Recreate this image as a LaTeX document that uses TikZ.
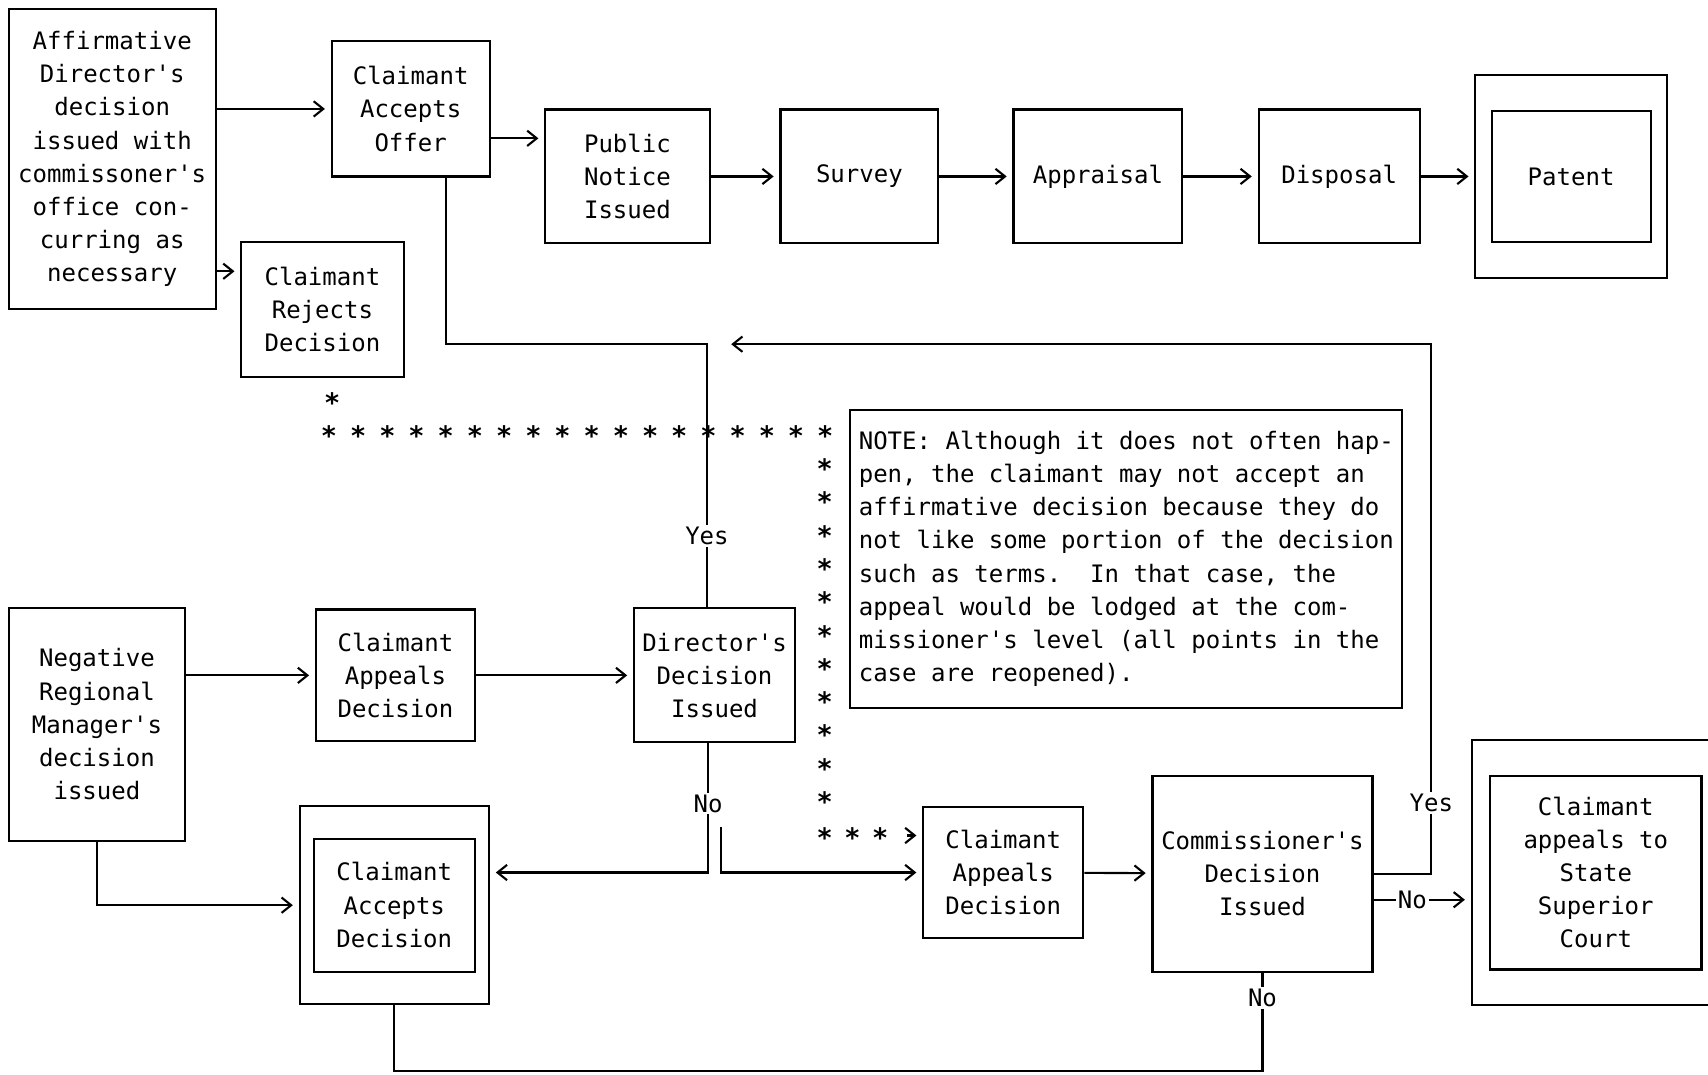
\documentclass[tikz,border=0pt]{standalone}
\usepackage{fontspec}
\setmonofont{DejaVu Sans Mono}
\usetikzlibrary{arrows.meta,fit}

\begin{document}
\begin{tikzpicture}[x=0.02cm,y=-0.02cm,>={Straight Barb[length=5pt,width=8pt]},
                    line width=1.1pt,font=\ttfamily\fontsize{12.55}{17.36}\selectfont]
  \tikzstyle{box}=[draw, align=center, inner sep=2pt]
  \tikzstyle{flow}=[->, shorten >=3pt]
  \tikzstyle{lbl}=[fill=white, inner sep=1pt]
  \tikzstyle{ast}=[inner sep=0pt, font=\ttfamily\bfseries\fontsize{14}{17.36}\selectfont]

  \useasboundingbox (0,0) rectangle (1568,986);

  % top row
  \node[box, minimum width=3.8cm, minimum height=5.52cm] (Affirm) at (103,146)
    {Affirmative\\Director's\\decision\\issued with\\commissoner's\\office con-\\curring as\\necessary};
  \node[box, minimum width=2.9cm, minimum height=2.48cm] (AcceptOffer) at (377,100) {Claimant\\Accepts\\Offer};
  \node[box, minimum width=2.98cm, minimum height=2.48cm] (Reject) at (296,284) {Claimant\\Rejects\\Decision};
  \node[box, minimum width=3.02cm, minimum height=2.46cm] (Notice) at (576,162) {Public\\Notice\\Issued};
  \node[box, minimum width=2.9cm, minimum height=2.46cm] (Survey) [right of=Notice, node distance=4.26cm] {Survey};
  \node[box, minimum width=3.1cm, minimum height=2.46cm] (Appraisal) [right of=Survey, node distance=4.38cm] {Appraisal};
  \node[box, minimum width=2.96cm, minimum height=2.46cm] (Disposal) [right of=Appraisal, node distance=4.43cm] {Disposal};
  \node[box, minimum width=2.92cm, minimum height=2.4cm] (Patent) [right of=Disposal, node distance=4.26cm] {Patent};
  \node[draw, fit=(Patent), inner xsep=0.28cm, inner ysep=0.64cm] (PatentOut) {};

  % bottom part
  \node[box, minimum width=3.24cm, minimum height=4.28cm] (Negative) at (89,665)
    {Negative\\Regional\\Manager's\\decision\\issued};
  \node[box, minimum width=2.92cm, minimum height=2.42cm] (Appeal) at (363,620) {Claimant\\Appeals\\Decision};
  \node[box, minimum width=2.96cm, minimum height=2.46cm] (Director) at (656,620) {Director's\\Decision\\Issued};
  \node[box, align=left, minimum width=10.14cm, minimum height=5.48cm] (Note) at (1034,513)
    {NOTE: Although it does not often hap-\\
     pen, the claimant may not accept an\\
     affirmative decision because they do\\
     not like some portion of the decision\\
     such as terms.~~In that case, the\\
     appeal would be lodged at the com-\\
     missioner's level (all points in the\\
     case are reopened).};
  \node[box, minimum width=2.96cm, minimum height=2.44cm] (AcceptDec) at (362,831) {Claimant\\Accepts\\Decision};
  \node[draw, fit=(AcceptDec), inner xsep=0.24cm, inner ysep=0.58cm] (AcceptOut) {};
  \node[box, minimum width=2.94cm, minimum height=2.4cm] (Appeal2) at (921,801) {Claimant\\Appeals\\Decision};
  \node[box, minimum width=4.04cm, minimum height=3.6cm] (Commish) at (1159,802) {Commissioner's\\Decision\\Issued};
  \node[box, minimum width=3.88cm, minimum height=3.56cm] (Court) at (1465,801)
    {Claimant\\appeals to\\State\\Superior\\Court};
  \node[draw, fit=(Court), inner xsep=0.32cm, inner ysep=0.64cm] (CourtOut) {};

  \coordinate (Turn) at (1314,316);
  \coordinate (Bottom) at (0,983);
  \coordinate (RejectIn) at ([yshift=-0.56cm]Reject.north west);

  % connectors
  \draw[flow] (Affirm.east |- AcceptOffer) -- (AcceptOffer);
  \draw[flow] (Affirm.east |- RejectIn) -- (RejectIn);
  \draw[flow] ([yshift=-0.54cm]AcceptOffer.east) coordinate (OfferOut) -- (Notice.west |- OfferOut);
  \draw[flow] (Notice) -- (Survey);
  \draw[flow] (Survey) -- (Appraisal);
  \draw[flow] (Appraisal) -- (Disposal);
  \draw[flow] (Disposal) -- (PatentOut);

  \draw[flow] (Commish.east) -| node[lbl, pos=0.567] {Yes} (Turn)
        -- ([xshift=0.2cm]Director.north |- Turn);
  \draw ([xshift=-0.14cm]Director.north) -- node[lbl, pos=0.27] {Yes}
        ([xshift=-0.14cm]Director.north |- Turn) -| ([xshift=0.65cm]AcceptOffer.south);

  \draw[flow] (Negative.east |- Appeal) -- (Appeal);
  \draw[flow] (Appeal) -- (Director);
  \draw[flow] (Negative.south) |- (AcceptOut.west);
  \draw[flow] ([xshift=-0.12cm]Director.south) |- node[lbl, pos=0.233] {No} (AcceptOut.east |- Appeal2);
  \draw[flow] ([xshift=0.12cm,yshift=-1.54cm]Director.south) |- (Appeal2.west);
  \draw[flow] (Appeal2) -- (Commish);
  \draw[flow] ([yshift=-0.48cm]Commish.east) coordinate (NoOut) -- node[lbl, pos=0.4] {No} (CourtOut.west |- NoOut);
  \draw (Commish.south) -- node[lbl, pos=0.26] {No} (Commish.south |- Bottom) -| (AcceptOut.south);

  % star line from the rejected decision
  \node[ast] at (305,370) {*};
  \foreach \i in {0,...,17}
    \node[ast] at (302+26.8*\i,400) {*};
  \foreach \j in {0,...,10}
    \node[ast] at (757,430+30.6*\j) {*};
  \foreach \i in {0,1,2}
    \node[ast] (S\i) at (757+25.5*\i,769) {*};
  \draw[flow] ([xshift=0.5cm,yshift=0.04cm]S2.center) coordinate (StarEnd) -- (Appeal2.west |- StarEnd);
\end{tikzpicture}
\end{document}
